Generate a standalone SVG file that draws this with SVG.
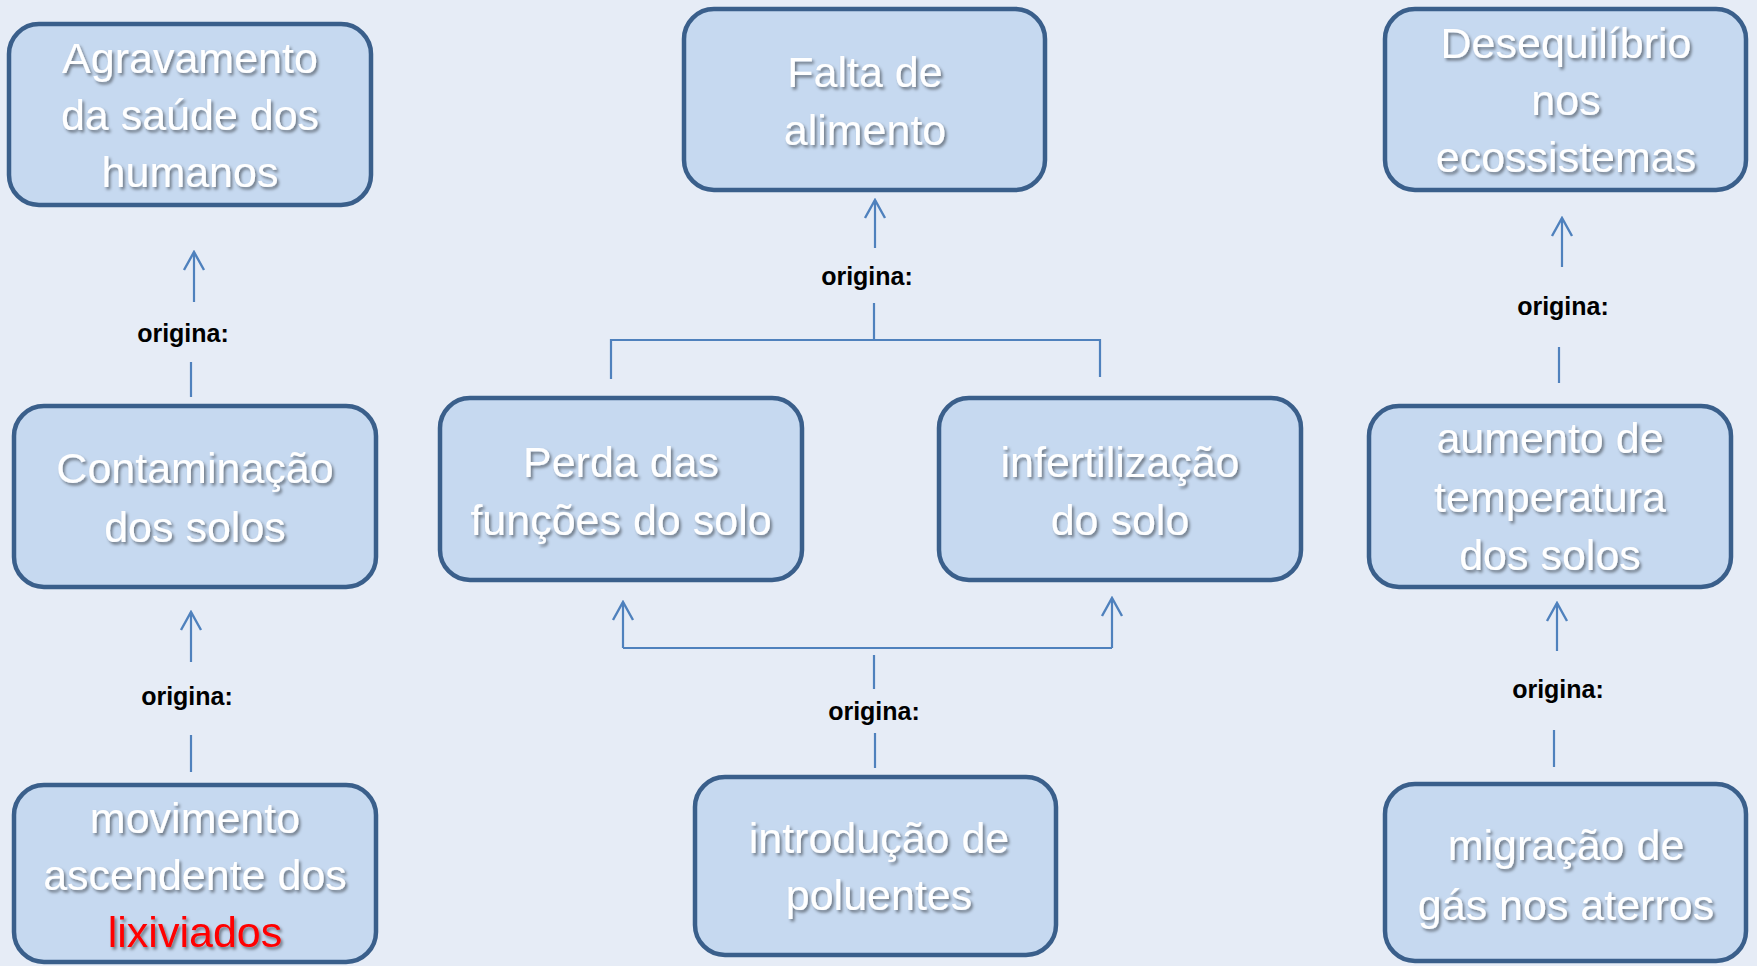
<svg xmlns="http://www.w3.org/2000/svg" width="1757" height="966" viewBox="0 0 1757 966">
<defs>
<filter id="sh" x="-10%" y="-20%" width="130%" height="150%">
<feDropShadow dx="2" dy="2.5" stdDeviation="1.6" flood-color="#000" flood-opacity="0.45"/>
</filter>
<marker id="ah" viewBox="-20 -12 22 24" refX="0" refY="0" markerWidth="22" markerHeight="24" markerUnits="userSpaceOnUse" orient="auto">
<path d="M-18,-10 L0,0 L-18,10" fill="none" stroke="#4F81BD" stroke-width="2.4"/>
</marker>
</defs>
<style>
.box{fill:#C6D9F0;stroke:#3A5F8B;stroke-width:4.5}
.t{font-family:"Liberation Sans",Arial,sans-serif;font-size:43px;fill:#FFFFFF;text-anchor:middle;filter:url(#sh)}
.red{fill:#FF0000}
.lbl{font-family:"Liberation Sans",Arial,sans-serif;font-weight:bold;font-size:25px;fill:#000;text-anchor:middle}
.c{stroke:#4F81BD;stroke-width:2.2;fill:none}
.a{marker-end:url(#ah)}
</style>
<rect width="1757" height="966" fill="#E6ECF6"/>
<g id="connectors">
<line class="c a" x1="194" y1="302" x2="194" y2="252"/>
<line class="c" x1="191" y1="362" x2="191" y2="397"/>
<line class="c a" x1="191" y1="662" x2="191" y2="612"/>
<line class="c" x1="191" y1="735" x2="191" y2="772"/>
<line class="c a" x1="875" y1="248" x2="875" y2="200"/>
<line class="c" x1="874" y1="303" x2="874" y2="340"/>
<polyline class="c" points="611,379 611,340 1100,340 1100,377"/>
<line class="c a" x1="623" y1="648" x2="623" y2="602"/>
<line class="c a" x1="1112" y1="648" x2="1112" y2="598"/>
<line class="c" x1="623" y1="648" x2="1112" y2="648"/>
<line class="c" x1="874" y1="655" x2="874" y2="689"/>
<line class="c" x1="875" y1="733" x2="875" y2="768"/>
<line class="c a" x1="1562" y1="267" x2="1562" y2="218"/>
<line class="c" x1="1559" y1="347" x2="1559" y2="383"/>
<line class="c a" x1="1557" y1="651" x2="1557" y2="603"/>
<line class="c" x1="1554" y1="730" x2="1554" y2="767"/>
<text class="lbl" x="183" y="342">origina:</text>
<text class="lbl" x="187" y="705">origina:</text>
<text class="lbl" x="867" y="285">origina:</text>
<text class="lbl" x="874" y="720">origina:</text>
<text class="lbl" x="1563" y="315">origina:</text>
<text class="lbl" x="1558" y="698">origina:</text>
</g>
<g id="agravamento">
<rect class="box" x="9" y="24" width="362" height="181" rx="30"/>
<text class="t" x="190" y="73">Agravamento</text>
<text class="t" x="190" y="130">da saúde dos</text>
<text class="t" x="190" y="187">humanos</text>
</g>
<g id="contaminacao">
<rect class="box" x="14" y="406" width="362" height="181" rx="30"/>
<text class="t" x="195" y="483">Contaminação</text>
<text class="t" x="195" y="542">dos solos</text>
</g>
<g id="movimento">
<rect class="box" x="14" y="785" width="362" height="177" rx="30"/>
<text class="t" x="195" y="833">movimento</text>
<text class="t" x="195" y="890">ascendente dos</text>
<text class="t red" x="195" y="947">lixiviados</text>
</g>
<g id="falta">
<rect class="box" x="684" y="9" width="361" height="181" rx="30"/>
<text class="t" x="865" y="87">Falta de</text>
<text class="t" x="865" y="145">alimento</text>
</g>
<g id="perda">
<rect class="box" x="440" y="398" width="362" height="182" rx="30"/>
<text class="t" x="621" y="477">Perda das</text>
<text class="t" x="621" y="535">funções do solo</text>
</g>
<g id="infertilizacao">
<rect class="box" x="939" y="398" width="362" height="182" rx="30"/>
<text class="t" x="1120" y="477">infertilização</text>
<text class="t" x="1120" y="535">do solo</text>
</g>
<g id="introducao">
<rect class="box" x="695" y="777" width="361" height="178" rx="30"/>
<text class="t" x="879" y="853">introdução de</text>
<text class="t" x="879" y="910">poluentes</text>
</g>
<g id="desequilibrio">
<rect class="box" x="1385" y="9" width="361" height="181" rx="30"/>
<text class="t" x="1566" y="58">Desequilíbrio</text>
<text class="t" x="1566" y="115">nos</text>
<text class="t" x="1566" y="172">ecossistemas</text>
</g>
<g id="aumento">
<rect class="box" x="1369" y="406" width="362" height="181" rx="30"/>
<text class="t" x="1550" y="453">aumento de</text>
<text class="t" x="1550" y="512">temperatura</text>
<text class="t" x="1550" y="570">dos solos</text>
</g>
<g id="migracao">
<rect class="box" x="1385" y="784" width="361" height="177" rx="30"/>
<text class="t" x="1566" y="860">migração de</text>
<text class="t" x="1566" y="920">gás nos aterros</text>
</g>
</svg>
